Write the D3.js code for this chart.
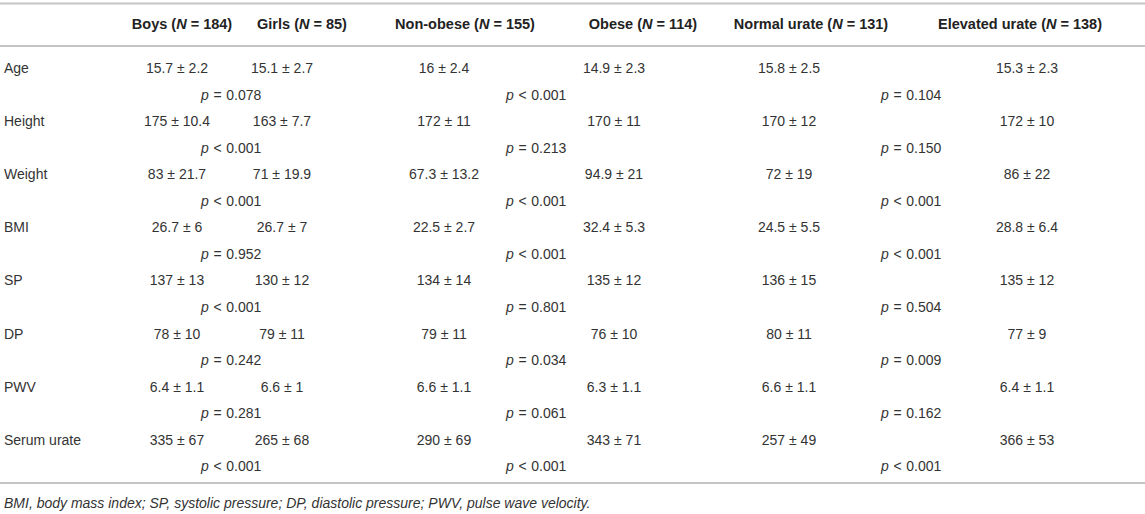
<!doctype html>
<html lang="en">
  <head>
    <meta charset="UTF-8" />
    <title>Characteristics by sex, obesity and urate</title>
    <style>
      body { margin: 0; background: #fff; }
      svg text { font-family: "Liberation Sans", Arial, sans-serif; fill: #333; }
      .hdr { font-weight: bold; font-size: 14.5px; fill: #222; }
      .cell { font-size: 14px; }
      .note { font-size: 14px; font-style: italic; }
    </style>
  </head>
  <body>
    <div id="table"></div>
    <script src="https://cdn.jsdelivr.net/npm/d3@7"></script>
    <script>
      const variables = ["Age", "Height", "Weight", "BMI", "SP", "DP", "PWV", "Serum urate"];
      const groups = ["Boys", "Girls", "Non-obese", "Obese", "Normal urate", "Elevated urate"];
      const groupN = [184, 85, 155, 114, 131, 138];

      const boys = ["15.7 ± 2.2", "175 ± 10.4", "83 ± 21.7", "26.7 ± 6", "137 ± 13", "78 ± 10", "6.4 ± 1.1", "335 ± 67"];
      const girls = ["15.1 ± 2.7", "163 ± 7.7", "71 ± 19.9", "26.7 ± 7", "130 ± 12", "79 ± 11", "6.6 ± 1", "265 ± 68"];
      const nonObese = ["16 ± 2.4", "172 ± 11", "67.3 ± 13.2", "22.5 ± 2.7", "134 ± 14", "79 ± 11", "6.6 ± 1.1", "290 ± 69"];
      const obese = ["14.9 ± 2.3", "170 ± 11", "94.9 ± 21", "32.4 ± 5.3", "135 ± 12", "76 ± 10", "6.3 ± 1.1", "343 ± 71"];
      const normalUrate = ["15.8 ± 2.5", "170 ± 12", "72 ± 19", "24.5 ± 5.5", "136 ± 15", "80 ± 11", "6.6 ± 1.1", "257 ± 49"];
      const elevatedUrate = ["15.3 ± 2.3", "172 ± 10", "86 ± 22", "28.8 ± 6.4", "135 ± 12", "77 ± 9", "6.4 ± 1.1", "366 ± 53"];

      // p-values for each pair of groups: [sign, value]
      const pSex = [["=", "0.078"], ["<", "0.001"], ["<", "0.001"], ["=", "0.952"], ["<", "0.001"], ["=", "0.242"], ["=", "0.281"], ["<", "0.001"]];
      const pObesity = [["<", "0.001"], ["=", "0.213"], ["<", "0.001"], ["<", "0.001"], ["=", "0.801"], ["=", "0.034"], ["=", "0.061"], ["<", "0.001"]];
      const pUrate = [["=", "0.104"], ["=", "0.150"], ["<", "0.001"], ["<", "0.001"], ["=", "0.504"], ["=", "0.009"], ["=", "0.162"], ["<", "0.001"]];

      const footnote = "BMI, body mass index; SP, systolic pressure; DP, diastolic pressure; PWV, pulse wave velocity.";

      const width = 1145, height = 514;
      const svg = d3.select("#table").append("svg")
          .attr("width", width)
          .attr("height", height);

      const columns = [boys, girls, nonObese, obese, normalUrate, elevatedUrate];
      const pCols = [pSex, pObesity, pUrate];

      // layout scales (row baselines, column positions)
      const rowPitch = 53.1;
      const y = d3.scalePoint().domain(variables).range([73, 73 + rowPitch * 7]);
      const pOffset = 26.5;
      const xHead = d3.scaleOrdinal().domain(groups).range([182, 302, 465, 643, 811, 1020]);
      const xVal = d3.scaleOrdinal().domain(groups).range([177, 282, 444, 614, 789, 1027]);
      const xP = d3.scaleOrdinal().domain([0, 1, 2]).range([201, 506, 881]);

      // rules
      const rules = [3.5, 46, 483];
      svg.selectAll("line.rule")
          .data(rules)
          .enter().append("line")
          .attr("class", "rule")
          .attr("x1", 0).attr("x2", width)
          .attr("y1", d => d).attr("y2", d => d)
          .attr("stroke", "#c4c4c4")
          .attr("stroke-width", 2);

      // header
      const head = svg.selectAll("text.hdr")
          .data(groups)
          .enter().append("text")
          .attr("class", "hdr")
          .attr("text-anchor", "middle")
          .attr("x", d => xHead(d))
          .attr("y", 29);
      head.append("tspan").text(d => d + " (");
      head.append("tspan").style("font-style", "italic").text("N");
      head.append("tspan").text((d, i) => " = " + groupN[i] + ")");

      // row labels
      svg.selectAll("text.label")
          .data(variables)
          .enter().append("text")
          .attr("class", "cell label")
          .attr("x", 4)
          .attr("y", d => y(d))
          .text(d => d);

      // values
      columns.forEach((col, c) => {
          svg.selectAll("text.v" + c)
              .data(col)
              .enter().append("text")
              .attr("class", "cell v" + c)
              .attr("text-anchor", "middle")
              .attr("x", xVal(groups[c]))
              .attr("y", (d, i) => y(variables[i]))
              .text(d => d);
      });

      // p-values under each pair of groups
      pCols.forEach((col, c) => {
          const t = svg.selectAll("text.p" + c)
              .data(col)
              .enter().append("text")
              .attr("class", "cell p" + c)
              .attr("x", xP(c))
              .attr("y", (d, i) => y(variables[i]) + pOffset);
          t.append("tspan").style("font-style", "italic").text("p");
          t.append("tspan").text(d => "\u2004" + d[0] + "\u2004" + d[1]);
      });

      svg.append("text")
          .attr("class", "note")
          .attr("x", 4)
          .attr("y", 508)
          .text(footnote);
    </script>
  </body>
</html>
